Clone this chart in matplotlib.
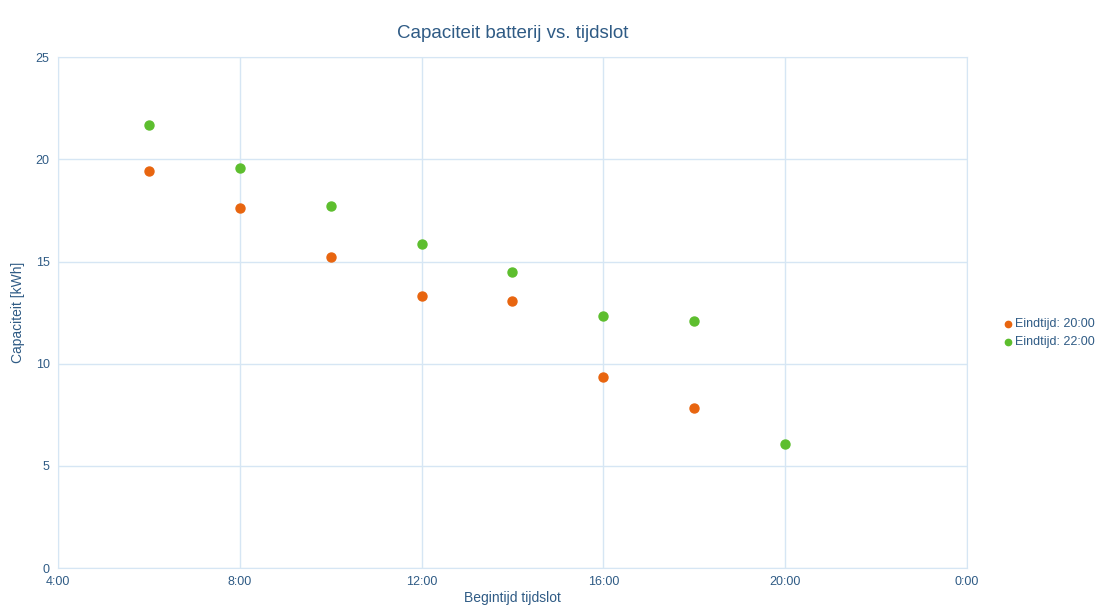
import matplotlib.pyplot as plt

# begin time of slot (hours) and battery capacity [kWh]
hours_20 = [6, 8, 10, 12, 14, 16, 18]
cap_20 = [19.42, 17.62, 15.22, 13.3, 13.05, 9.37, 7.85]
hours_22 = [6, 8, 10, 12, 14, 16, 18, 20]
cap_22 = [21.67, 19.6, 17.7, 15.85, 14.5, 12.32, 12.08, 6.05]

xticks = [4, 8, 12, 16, 20, 24]
xlabels = ["4:00", "8:00", "12:00", "16:00", "20:00", "0:00"]

txt = '#2f5b85'
grid = '#d6e6f4'

plt.rcParams['font.family'] = ['Liberation Sans', 'DejaVu Sans']
fig = plt.figure(figsize=(11.06, 6.15), dpi=100)
ax = fig.add_axes([0.0524, 0.0764, 0.8219, 0.8306])

ax.scatter(hours_20, cap_20, s=42, color='#e8650f', label='Eindtijd: 20:00', zorder=3)
ax.scatter(hours_22, cap_22, s=42, color='#5dbe2e', label='Eindtijd: 22:00', zorder=3)

ax.set_xlim(4, 24)
ax.set_ylim(0, 25)
ax.set_xticks(xticks)
ax.set_xticklabels(xlabels)
ax.set_yticks([0, 5, 10, 15, 20, 25])
ax.grid(True, color=grid, lw=1)
ax.set_axisbelow(True)
for s in ax.spines.values():
    s.set_color(grid)
ax.tick_params(length=0, labelsize=9, colors=txt, pad=6)

ax.set_title('Capaciteit batterij vs. tijdslot', color=txt, fontsize=13.5, pad=14)
ax.set_xlabel('Begintijd tijdslot', color=txt, fontsize=10, labelpad=2)
ax.set_ylabel('Capaciteit [kWh]', color=txt, fontsize=10, labelpad=8)

leg = ax.legend(loc='center left', bbox_to_anchor=(1.034, 0.46), frameon=False,
                fontsize=9, handlelength=0.6, handletextpad=0.3,
                borderpad=0, markerscale=0.7, labelspacing=0.45)
for t in leg.get_texts():
    t.set_color(txt)

fig.savefig('out.png', dpi=100)
